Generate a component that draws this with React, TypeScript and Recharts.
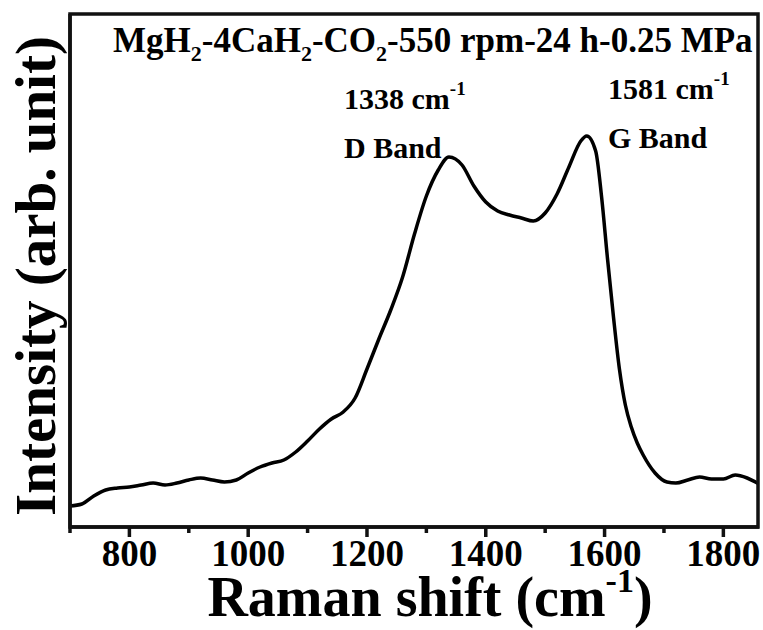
import React from "react";
import { LineChart, Line, XAxis, YAxis } from "recharts";

const ramanShift = [
  700, 720, 740, 760, 780, 800, 820, 840, 860, 880, 900, 920, 940, 960, 980,
  1000, 1020, 1040, 1060, 1080, 1100, 1120, 1140, 1160, 1180, 1200, 1220, 1240,
  1260, 1280, 1300, 1320, 1338, 1360, 1380, 1400, 1420, 1440, 1460, 1480, 1500,
  1520, 1540, 1560, 1570, 1585, 1595, 1605, 1615, 1625, 1635, 1645, 1655, 1665,
  1685, 1705, 1720, 1740, 1760, 1780, 1800, 1820, 1840, 1860,
];

const intensity = [
  21, 23, 31, 37, 39, 40, 42, 44, 42, 44, 47, 49, 47, 45, 47,
  54, 60, 64, 67, 75, 86, 98, 108, 115, 129, 158, 188, 217,
  250, 293, 331, 357, 370, 362, 341, 325, 316, 312, 309, 306, 314,
  333, 360, 386, 391, 376, 330, 268, 210, 158, 122, 100, 84, 72,
  54, 45, 44, 47, 50, 48, 48, 52, 49, 43,
];

const majorTicks = [800, 1000, 1200, 1400, 1600, 1800];
const minorTicks = [700, 900, 1100, 1300, 1500, 1700];

const data = ramanShift.map((x, i) => ({ x, y: intensity[i] }));
const allTicks = [...majorTicks, ...minorTicks].sort((a, b) => a - b);

const FONT = "'Liberation Serif', 'Times New Roman', serif";
const INK = "#111";
const FRAME = { stroke: INK, strokeWidth: 3.5 };

// bottom ticks: long ones carry a label, short ones in between
const XTick = (props: any) => {
  const { x, y, payload } = props;
  const major = majorTicks.includes(payload.value);
  return (
    <g>
      <path
        d={`M${x},${y}V${y + (major ? 10 : 6)}`}
        stroke={INK}
        strokeWidth={3.5}
      />
      {major && (
        <text
          x={x}
          y={y + 39}
          textAnchor="middle"
          fontFamily={FONT}
          fontWeight="bold"
          fontSize={37}
          fill="#000"
        >
          {payload.value}
        </text>
      )}
    </g>
  );
};

export default function App() {
  return (
    <div
      style={{
        position: "absolute",
        left: 0,
        top: 0,
        width: 763,
        height: 630,
        background: "#fff",
      }}
    >
      <LineChart
        width={763}
        height={630}
        data={data}
        margin={{ top: 14, right: 4, bottom: 0, left: 69 }}
      >
        <XAxis
          type="number"
          dataKey="x"
          domain={[700, 1860]}
          ticks={allTicks}
          interval={0}
          tickLine={false}
          axisLine={FRAME}
          tickSize={0}
          tickMargin={0}
          tick={<XTick />}
          height={103}
          allowDataOverflow
        />
        <YAxis
          type="number"
          domain={[0, 513]}
          ticks={[]}
          tick={false}
          tickLine={false}
          axisLine={FRAME}
          width={1}
          allowDataOverflow
        />
        <Line
          type="monotone"
          dataKey="y"
          stroke="#000"
          strokeWidth={3.5}
          dot={false}
          isAnimationActive={false}
        />
      </LineChart>
      <svg
        width={763}
        height={630}
        style={{ position: "absolute", left: 0, top: 0, pointerEvents: "none" }}
        fontFamily={FONT}
        fontWeight="bold"
        fill="#000"
      >
        {/* box round the plot area */}
        <rect
          x={70}
          y={14}
          width={688}
          height={513}
          fill="none"
          stroke={INK}
          strokeWidth={3.5}
        />
        <text x={113} y={52} fontSize={35}>
          MgH<tspan fontSize={22} dy={9}>2</tspan>
          <tspan dy={-9}>-4CaH</tspan>
          <tspan fontSize={22} dy={9}>2</tspan>
          <tspan dy={-9}>-CO</tspan>
          <tspan fontSize={22} dy={9}>2</tspan>
          <tspan dy={-9}>-550 rpm-24 h-0.25 MPa</tspan>
        </text>
        <text x={344} y={109} fontSize={30}>
          1338 cm<tspan fontSize={19} dy={-14}>-1</tspan>
        </text>
        <text x={344} y={158} fontSize={30}>
          D Band
        </text>
        <text x={608} y={99} fontSize={30}>
          1581 cm<tspan fontSize={19} dy={-14}>-1</tspan>
        </text>
        <text x={608} y={148} fontSize={30}>
          G Band
        </text>
        <text x={430} y={616} fontSize={56} textAnchor="middle">
          Raman shift (cm<tspan fontSize={34} dy={-24}>-1</tspan>
          <tspan dy={24}>)</tspan>
        </text>
        <text
          x={55}
          y={276}
          fontSize={57}
          textAnchor="middle"
          transform="rotate(-90, 55, 276)"
        >
          Intensity (arb. unit)
        </text>
      </svg>
    </div>
  );
}
